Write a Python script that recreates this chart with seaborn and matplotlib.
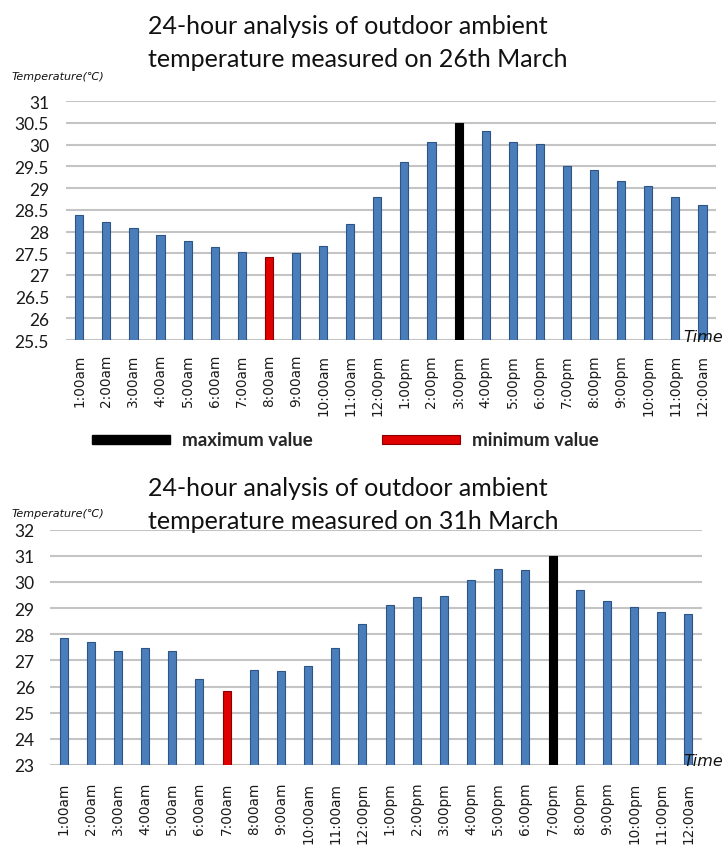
import matplotlib
matplotlib.use("Agg")
import matplotlib.pyplot as plt
import seaborn as sns
import pandas as pd

# Hour labels shared by both days
hours = ["1:00am", "2:00am", "3:00am", "4:00am", "5:00am", "6:00am",
         "7:00am", "8:00am", "9:00am", "10:00am", "11:00am", "12:00pm",
         "1:00pm", "2:00pm", "3:00pm", "4:00pm", "5:00pm", "6:00pm",
         "7:00pm", "8:00pm", "9:00pm", "10:00pm", "11:00pm", "12:00am"]

# Outdoor ambient temperature (°C), 26th March
temp_26 = [28.39, 28.21, 28.07, 27.91, 27.79, 27.65, 27.52, 27.41, 27.50,
           27.67, 28.17, 28.80, 29.61, 30.06, 30.49, 30.32, 30.06, 30.01,
           29.51, 29.42, 29.16, 29.04, 28.79, 28.60]

# Outdoor ambient temperature (°C), 31st March
temp_31 = [27.85, 27.72, 27.35, 27.46, 27.37, 26.30, 25.84, 26.65, 26.60,
           26.78, 27.49, 28.39, 29.13, 29.43, 29.46, 30.09, 30.50, 30.46,
           31.00, 29.69, 29.27, 29.04, 28.85, 28.78]

titles = ["24-hour analysis of outdoor ambient\ntemperature measured on 26th March",
          "24-hour analysis of outdoor ambient\ntemperature measured on 31h March"]
y_ticks_26 = [25.5, 26, 26.5, 27, 27.5, 28, 28.5, 29, 29.5, 30, 30.5, 31]
y_ticks_31 = [23, 24, 25, 26, 27, 28, 29, 30, 31, 32]

BLUE = "#4A7EBB"
BLUE_EDGE = "#2C5586"
RED = "#E00000"
BLACK = "#000000"

sns.set_theme(style="white")
plt.rcParams["font.family"] = ["DejaVu Sans"]

fig = plt.figure(figsize=(7.22, 8.53), dpi=100)
W, H = 722, 853


def fig_axes(x0, y0, x1, y1):
    return fig.add_axes([x0 / W, 1 - y1 / H, (x1 - x0) / W, (y1 - y0) / H])


def draw_day(ax, values, yticks, tick_font, xpad, ypad):
    df = pd.DataFrame({"hour": hours, "temp": values})
    vmax, vmin = max(values), min(values)
    colors = {h: (BLACK if v == vmax else RED if v == vmin else BLUE)
              for h, v in zip(hours, values)}
    sns.barplot(data=df, x="hour", y="temp", hue="hour", palette=colors,
                width=0.3, legend=False, ax=ax, zorder=3, saturation=1)
    for patch, v in zip(ax.patches, values):
        if v == vmax:
            patch.set_edgecolor(BLACK)
        elif v == vmin:
            patch.set_edgecolor("#8A0000")
        else:
            patch.set_edgecolor(BLUE_EDGE)
        patch.set_linewidth(0.8)
    ax.set_xlim(-0.5, len(hours) - 0.5)
    ax.set_ylim(yticks[0], yticks[-1])
    ax.set_yticks(yticks)
    ax.set_yticklabels([f"{t:g}" for t in yticks], fontsize=12.5,
                       family=tick_font, color="#1A1A1A")
    ax.set_xticks(range(len(hours)))
    ax.set_xticklabels(hours, rotation=90, fontsize=9.8,
                       family=["DejaVu Sans"], color="#1A1A1A")
    ax.set_xlabel("")
    ax.set_ylabel("")
    ax.grid(axis="y", color="#C4C4C4", linewidth=1.5, zorder=0)
    ax.set_axisbelow(True)
    for s in ax.spines.values():
        s.set_visible(False)
    ax.tick_params(axis="both", length=0)
    ax.tick_params(axis="x", pad=xpad)
    ax.tick_params(axis="y", pad=ypad)


title_font = ["Lato", "DejaVu Sans"]
tick_font = ["Lato", "DejaVu Sans"]

# 26th March
ax1 = fig_axes(65.7, 102.3, 716, 341)
draw_day(ax1, temp_26, y_ticks_26, tick_font, xpad=10, ypad=12)
fig.text(148 / W, 1 - 43 / H, titles[0], ha="left", va="center",
         multialignment="left", fontsize=18, family=title_font,
         linespacing=1.5, color="#111111")
fig.text(12 / W, 1 - 77 / H, "Temperature(℃)", ha="left", va="center",
         fontsize=8, style="italic", color="#111111")
fig.text(683 / W, 1 - 337 / H, "Time", ha="left", va="center",
         fontsize=11.5, style="italic", color="#111111")

# Legend strips for maximum / minimum markers
fig.patches.append(plt.Rectangle((92 / W, 1 - 445 / H), 78 / W, 9 / H,
                                 transform=fig.transFigure, color=BLACK))
fig.text(182 / W, 1 - 441 / H, "maximum value", ha="left", va="center",
         fontsize=13.5, fontweight="bold", family=["Lato", "DejaVu Sans"])
fig.patches.append(plt.Rectangle((382 / W, 1 - 445 / H), 78 / W, 9 / H,
                                 transform=fig.transFigure, facecolor=RED,
                                 edgecolor="#8A0000", linewidth=0.8))
fig.text(472 / W, 1 - 441 / H, "minimum value", ha="left", va="center",
         fontsize=13.5, fontweight="bold", family=["Lato", "DejaVu Sans"])

# 31st March
ax2 = fig_axes(50, 530.7, 702, 766)
draw_day(ax2, temp_31, y_ticks_31, tick_font, xpad=12, ypad=11)
fig.text(148 / W, 1 - 505 / H, titles[1], ha="left", va="center",
         multialignment="left", fontsize=18, family=title_font,
         linespacing=1.5, color="#111111")
fig.text(12 / W, 1 - 514 / H, "Temperature(℃)", ha="left", va="center",
         fontsize=8, style="italic", color="#111111")
fig.text(683 / W, 1 - 762 / H, "Time", ha="left", va="center",
         fontsize=11.5, style="italic", color="#111111")

fig.savefig("out.png", dpi=100, facecolor="white")
